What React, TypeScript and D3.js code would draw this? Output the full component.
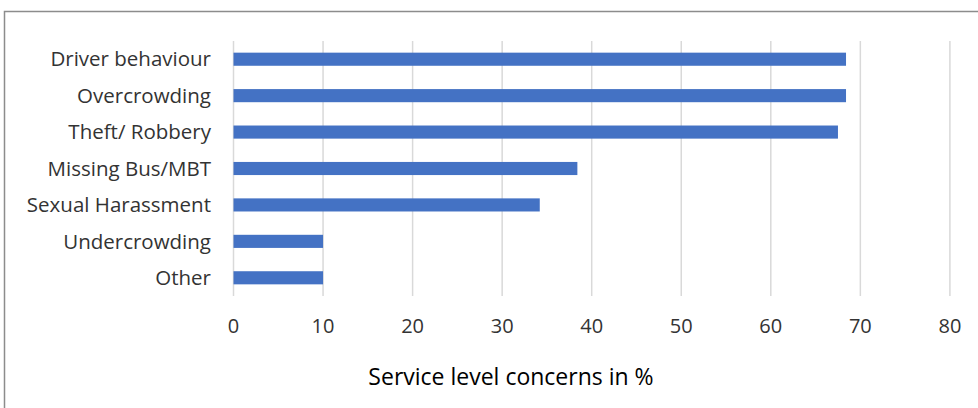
import React from "react";
import * as d3 from "d3";

const categories = ["Driver behaviour", "Overcrowding", "Theft/ Robbery", "Missing Bus/MBT", "Sexual Harassment", "Undercrowding", "Other"];
const values = [68.4, 68.4, 67.5, 38.4, 34.2, 10, 10];
const ticks = [0, 10, 20, 30, 40, 50, 60, 70, 80];
const axisTitle = "Service level concerns in %";

const W = 978, H = 408;
const FONT = "'Open Sans', sans-serif";

export default function App() {
  const x = d3.scaleLinear().domain([0, 80]).range([233.5, 949.9]);
  const y = d3.scaleBand<string>().domain(categories).range([41, 296]).paddingInner(0.64).paddingOuter(0.32);
  return (
    <svg width={W} height={H} style={{ position: "absolute", left: 0, top: 0, background: "#fff" }}>
      <rect x={4.5} y={11.5} width={W + 20} height={H + 20} fill="#fff" stroke="#8c8c8c" strokeWidth={1.5} />
      {ticks.map((t) => (
        <line key={t} x1={x(t)} x2={x(t)} y1={41} y2={296} stroke="#d9d9d9" strokeWidth={1.5} />
      ))}
      {categories.map((c, i) => (
        <rect key={c} x={x(0)} y={y(c)!} width={x(values[i]) - x(0)} height={y.bandwidth()} fill="#4472C4" />
      ))}
      {categories.map((c) => (
        <text key={c} x={211} y={y(c)! + y.bandwidth() / 2} dy="0.35em" textAnchor="end" fontFamily={FONT} fontSize={20.5} fill="#333">{c}</text>
      ))}
      {ticks.map((t) => (
        <text key={t} x={x(t)} y={326} dy="0.35em" textAnchor="middle" fontFamily={FONT} fontSize={20} fill="#333">{t}</text>
      ))}
      <text x={511} y={377} dy="0.35em" textAnchor="middle" fontFamily={FONT} fontSize={23} fill="#000">{axisTitle}</text>
    </svg>
  );
}
